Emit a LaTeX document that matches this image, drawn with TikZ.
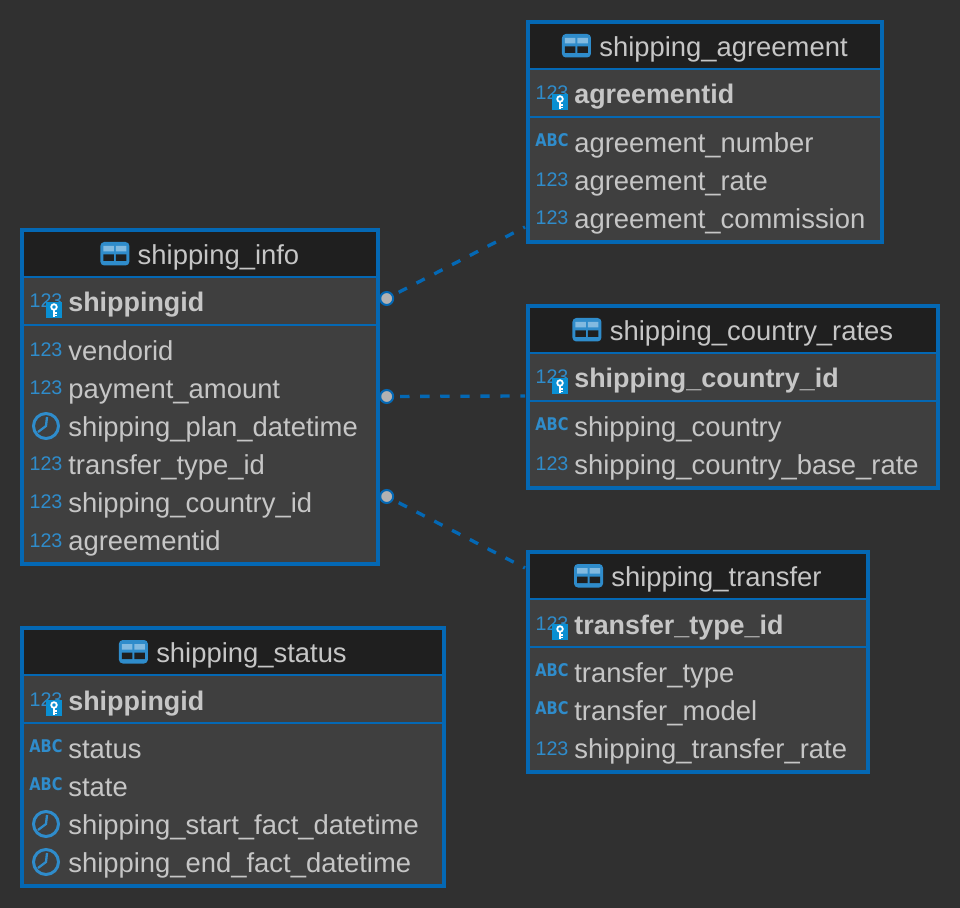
\documentclass[tikz,border=0pt]{standalone}
\usepackage{fontspec}
\setmainfont{Liberation Sans}
\newfontfamily\abcfont{DejaVu Sans}
\usetikzlibrary{calc}
\definecolor{canvascolor}{HTML}{303030}
\definecolor{bodycolor}{HTML}{3F3F3F}
\definecolor{headcolor}{HTML}{1F1F1F}
\definecolor{framecolor}{HTML}{0468B4}
\definecolor{iconcolor}{HTML}{2F8CCB}
\definecolor{keycolor}{HTML}{0A8FD2}
\definecolor{textcolor}{HTML}{C6C6C6}
\tikzset{
  tablebox/.style={draw=framecolor, line width=1.9pt, fill=bodycolor, inner sep=0pt, outer sep=0pt},
  titletext/.style={text=textcolor, inner sep=0pt, anchor=base, font=\fontsize{15.6}{18}\selectfont},
  keytext/.style={text=textcolor, inner sep=0pt, anchor=base west, font=\fontsize{15.3}{18}\selectfont\bfseries},
  fieldtext/.style={text=textcolor, inner sep=0pt, anchor=base west, font=\fontsize{15.6}{18}\selectfont},
  rowline/.style={draw=framecolor, line width=1.1pt},
  fklink/.style={draw=framecolor, line width=1.9pt, dash pattern=on 5.3pt off 6.1pt, dash phase=8pt},
  fkdot/.style={circle, draw=framecolor, line width=1.15pt, fill=textcolor!90!black, minimum size=7.4pt, inner sep=0pt},
  pics/num/.style={code={
    \node[text=iconcolor, inner sep=0pt, anchor=base, font=\fontsize{11.2}{12}\selectfont] at (0,6) {123};
  }},
  pics/abc/.style={code={
    \node[text=iconcolor, inner sep=0pt, anchor=base, yscale=1.2, font=\abcfont\fontsize{8.3}{10}\selectfont\bfseries] at (0,3.5) {ABC};
  }},
  pics/clock/.style={code={
    \draw[iconcolor, line width=1.7pt] (0,-1) circle (12.5);
    \draw[iconcolor, line width=1.3pt] (1,-10) -- (0,-1) -- (-8,5);
  }},
  pics/keyicon/.style={code={
    \fill[keycolor] (-8,-8) rectangle (8,8);
    \draw[white, line width=1pt] (0,-3) circle (2.8);
    \draw[white, line width=1.1pt] (0,0) -- (0,7) (0,3) -- (2.5,3) (0,5.5) -- (2.5,5.5);
  }},
  pics/tableicon/.style={code={
    \fill[iconcolor, rounded corners=2.2pt] (-14.5,-12) rectangle (14.5,11.5);
    \fill[iconcolor!60!white] (-11.5,-8) rectangle (-1,-2.5) (1,-8) rectangle (11.5,-2.5);
    \fill[headcolor] (-11.5,0.5) rectangle (-1,7) (1,0.5) rectangle (11.5,7);
  }}
}
% name, left, top, right, bottom, title, key field, fields
\newcommand{\ertable}[8]{
  \pgfmathsetmacro{\boxw}{#4-#2}
  \pgfmathsetmacro{\boxh}{#5-#3}
  \pgfmathsetmacro{\boxmid}{(#2+#4)/2}
  \node[tablebox, minimum width=\boxw*0.02cm, minimum height=\boxh*0.02cm] (#1) at ({(#2+#4)/2},{(#3+#5)/2}) {};
  \fill[headcolor] (#2+2,#3+2) rectangle (#4-2,#3+47);
  \draw[rowline] (#2,#3+47) -- (#4,#3+47);
  \draw[rowline] (#2,#3+95) -- (#4,#3+95);
  \node[titletext] (#1title) at (\boxmid+18.5,#3+34.5) {#6};
  \pic at ($(#1title.base west)+(-22.5,-10.5)$) {tableicon};
  \pic at (#2+24,#3+72) {num};
  \pic at (#2+32,#3+80) {keyicon};
  \node[keytext] (#1key) at (#2+46,#3+82) {#7};
  \foreach \kind/\field [count=\i] in {#8} {
    \pgfmathsetmacro{\rowy}{#3+121+38*(\i-1)}
    \pic at (#2+24,\rowy) {\kind};
    \node[fieldtext] (#1row\i) at (#2+46,\rowy+9.5) {\field};
  }
}

\begin{document}
\begin{tikzpicture}[x=0.02cm, y=-0.02cm]
\path[fill=canvascolor, use as bounding box] (0,0) rectangle (960,908);

\coordinate (agreementend) at (525,227);
\coordinate (ratesend) at (525,396);
\coordinate (transferend) at (525,568);
\node[fkdot] (agreementdot) at (386.7,298.5) {};
\node[fkdot] (ratesdot) at (386.7,396.5) {};
\node[fkdot] (transferdot) at (386.7,496.5) {};
\draw[fklink] (agreementdot) -- (agreementend);
\draw[fklink] (ratesdot) -- (ratesend);
\draw[fklink] (transferdot) -- (transferend);

\ertable{info}{22}{230}{378}{564}{shipping\_info}{shippingid}{num/vendorid, num/payment\_amount, clock/shipping\_plan\_datetime, num/transfer\_type\_id, num/shipping\_country\_id, num/agreementid}
\ertable{agreement}{528}{22}{882}{242}{shipping\_agreement}{agreementid}{abc/agreement\_number, num/agreement\_rate, num/agreement\_commission}
\ertable{rates}{528}{306}{938}{488}{shipping\_country\_rates}{shipping\_country\_id}{abc/shipping\_country, num/shipping\_country\_base\_rate}
\ertable{transfer}{528}{552}{868}{772}{shipping\_transfer}{transfer\_type\_id}{abc/transfer\_type, abc/transfer\_model, num/shipping\_transfer\_rate}
\ertable{status}{22}{628}{444}{886}{shipping\_status}{shippingid}{abc/status, abc/state, clock/shipping\_start\_fact\_datetime, clock/shipping\_end\_fact\_datetime}
\end{tikzpicture}
\end{document}
